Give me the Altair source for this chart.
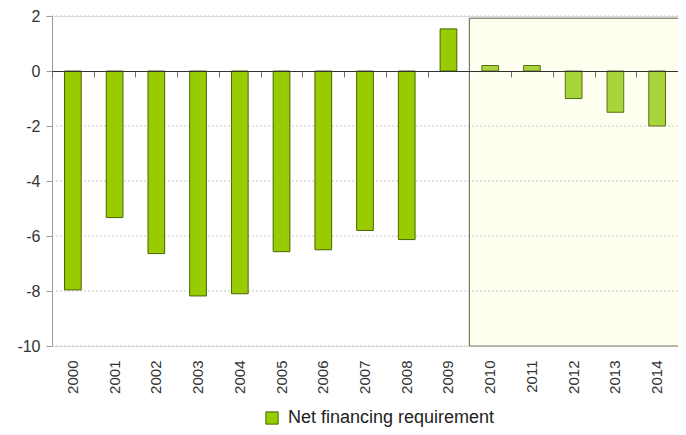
import altair as alt
import pandas as pd

years = [str(y) for y in range(2000, 2015)]
values = [-7.96, -5.33, -6.64, -8.18, -8.10, -6.57, -6.50, -5.80, -6.13, 1.53,
          0.20, 0.20, -1.00, -1.50, -2.00]
forecast_flags = [False] * 10 + [True] * 5
series_name = "Net financing requirement"
y_ticks = [-10, -8, -6, -4, -2, 0, 2]
grid_values = [-10, -8, -6, -4, -2, 2]
shade_x = [10]
shade_x2 = [15]
shade_top = [1.92]
shade_bottom = [-10]

FONT = "Liberation Sans"
W, H = 626, 330
PAD_L, PAD_T, PAD_B = 44, 8, 81
Y_MIN, Y_MAX = -10, 2

df = pd.DataFrame({
    "year": years,
    "value": values,
    "forecast": forecast_flags,
    "series": [series_name] * len(years),
})
shade_df = pd.DataFrame({"x0": shade_x, "x1": shade_x2, "y0": shade_top, "y1": shade_bottom})
grid_df = pd.DataFrame({"g": grid_values})

yscale = alt.Scale(domain=[Y_MIN, Y_MAX], nice=False, zero=False)
yaxis = alt.Axis(values=y_ticks, grid=False, labelFontSize=16, labelColor="#333333",
                 labelFont=FONT, domainColor="#9a9a9a", tickColor="#9a9a9a",
                 labelExpr="toString(datum.value)",
                 tickSize=6, labelPadding=6, title=None)

xq_scale = alt.Scale(domain=[0, 15], nice=False, zero=False)
xn_scale = alt.Scale(domain=years, paddingInner=0, paddingOuter=0)

zero_axis = alt.Axis(orient="bottom", offset=-(H * (0 - Y_MIN) / (Y_MAX - Y_MIN)),
                     values=list(range(16)), labels=False, tickSize=6,
                     tickColor="#707070", domainColor="#333333", domainWidth=1.2,
                     grid=False, title=None, zindex=1)

shade = alt.Chart(shade_df).mark_rect(fill="#FFFFF0", strokeOpacity=0).encode(
    x=alt.X("x0:Q", scale=xq_scale, axis=zero_axis),
    x2="x1:Q",
    y=alt.Y("y0:Q", scale=yscale, axis=yaxis),
    y2="y1:Q",
)

grid = alt.Chart(grid_df).mark_rule(color="#c8c8c8", strokeDash=[2, 2], strokeWidth=1).encode(
    y=alt.Y("g:Q", scale=yscale, axis=yaxis),
)

border_left = alt.Chart(shade_df).mark_rule(color="#5e5e48", strokeWidth=1).encode(
    x=alt.X("x0:Q", scale=xq_scale, axis=None),
    y=alt.Y("y0:Q", scale=yscale, axis=yaxis),
    y2="y1:Q",
)
border_top = alt.Chart(shade_df).mark_rule(color="#5e5e48", strokeWidth=1).encode(
    x=alt.X("x0:Q", scale=xq_scale, axis=None),
    x2="x1:Q",
    y=alt.Y("y0:Q", scale=yscale, axis=yaxis),
)
border_bottom = alt.Chart(shade_df).mark_rule(color="#8a8a70", strokeWidth=1).encode(
    x=alt.X("x0:Q", scale=xq_scale, axis=None),
    x2="x1:Q",
    y=alt.Y("y1:Q", scale=yscale, axis=yaxis),
)

xlabel_axis = alt.Axis(orient="bottom", labelAngle=-90, labelFontSize=15, labelFont=FONT,
                       labelColor="#333333", ticks=False, domain=False, labelPadding=14,
                       title=None)

bars_actual = alt.Chart(df).transform_filter(
    alt.datum.forecast == False
).mark_bar(width=alt.RelativeBandSize(0.4), stroke="#4a6400", strokeWidth=1).encode(
    x=alt.X("year:N", scale=xn_scale, axis=xlabel_axis, sort=years),
    y=alt.Y("value:Q", scale=yscale, axis=yaxis),
    y2=alt.datum(0),
    color=alt.Color("series:N", scale=alt.Scale(domain=[series_name], range=["#99CC00"]),
                    legend=alt.Legend(orient="none", legendX=211, legendY=393,
                                      direction="horizontal", title=None,
                                      symbolType="square", symbolSize=150,
                                      symbolStrokeColor="#4a6400", symbolStrokeWidth=1,
                                      labelFontSize=18, labelFont=FONT, labelColor="#222222",
                                      labelLimit=400, labelOffset=7)),
)

bars_forecast = alt.Chart(df).transform_filter(
    alt.datum.forecast == True
).mark_bar(width=alt.RelativeBandSize(0.4), fill="#A8D43C", stroke="#5a7010", strokeWidth=1).encode(
    x=alt.X("year:N", scale=xn_scale, axis=None, sort=years),
    y=alt.Y("value:Q", scale=yscale, axis=yaxis),
    y2=alt.datum(0),
)

chart = alt.layer(
    shade, grid, border_left, border_top, border_bottom, bars_actual, bars_forecast
).resolve_scale(x="independent").resolve_axis(x="independent").properties(
    width=W, height=H,
    autosize=alt.AutoSizeParams(type="none"),
    padding={"left": PAD_L, "top": PAD_T, "right": 0, "bottom": PAD_B},
).configure_view(stroke=None).configure(background="white")

chart.save("out.html", embed_options={"renderer": "svg", "actions": False})
